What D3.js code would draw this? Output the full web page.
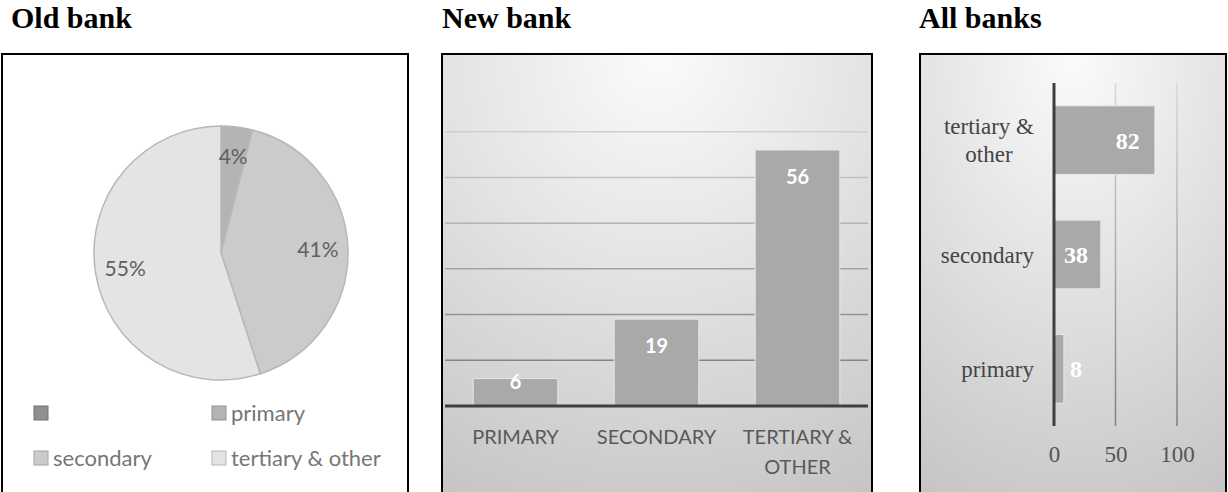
<!DOCTYPE html>
<html>
<head>
<meta charset="utf-8">
<script src="https://cdn.jsdelivr.net/npm/d3@7"></script>
<style>
  body { margin: 0; background: #fff; }
  .title { font-family: "Liberation Serif", "Times New Roman", serif; font-weight: bold; font-size: 30px; fill: #000; }
  .sans { font-family: Lato, "Liberation Sans", sans-serif; }
  .serif { font-family: "Liberation Serif", "Times New Roman", serif; }
</style>
</head>
<body>
<div id="main"></div>
<script>
// data
const oldCats = ["", "primary", "secondary", "tertiary & other"];
const oldShares = [0, 4, 41, 55];
const oldColors = ["#8f8f8f", "#b4b4b4", "#cbcbcb", "#e4e4e4"];

const newCats = ["PRIMARY", "SECONDARY", "TERTIARY & OTHER"];
const newCounts = [6, 19, 56];
const newGrid = [10, 20, 30, 40, 50, 60];

const allCats = ["tertiary & other", "secondary", "primary"];
const allCounts = [82, 38, 8];
const allTicks = [0, 50, 100];

const width = 1228, height = 492;

const svg = d3.select('#main').append('svg')
  .attr('width', width).attr('height', height);

const defs = svg.append('defs');

// background gradients for the two bar panels
function bgGradient(id) {
  const g = defs.append('radialGradient').attr('id', id)
    .attr('cx', '50%').attr('cy', '0%').attr('r', '115%')
    .attr('fx', '50%').attr('fy', '0%');
  g.append('stop').attr('offset', '0%').attr('stop-color', '#fbfbfb');
  g.append('stop').attr('offset', '45%').attr('stop-color', '#e2e2e2');
  g.append('stop').attr('offset', '100%').attr('stop-color', '#c2c2c2');
}
bgGradient('bg2');
bgGradient('bg3');

//helper to split "x & y" labels on two lines
function lines(str) {
  const i = str.indexOf('& ');
  return i < 0 ? [str] : [str.slice(0, i + 1), str.slice(i + 2)];
}

// ---------- Old bank (pie) ----------
svg.append('text').attr('class', 'title').attr('x', 11).attr('y', 28).text('Old bank');
svg.append('rect').attr('x', 2).attr('y', 54).attr('width', 406).attr('height', 450)
  .attr('fill', '#fff').attr('stroke', '#000').attr('stroke-width', 2);

const pieData = d3.pie().sort(null)(oldShares);
const r = 127;
const arc = d3.arc().innerRadius(0).outerRadius(r);
const labelArc = d3.arc().innerRadius(97).outerRadius(97);
const pieG = svg.append('g').attr('transform', 'translate(221,253)');

pieG.selectAll('path').data(pieData).enter().append('path')
  .attr('d', arc)
  .attr('fill', (d, i) => oldColors[i])
  .attr('stroke', '#b8b8b8').attr('stroke-width', 1.5);

pieG.selectAll('.lbl').data(pieData.filter(d => d.value > 0)).enter().append('text')
  .attr('class', 'sans')
  .attr('transform', d => 'translate(' + labelArc.centroid(d) + ')')
  .attr('text-anchor', 'middle').attr('dy', '0.35em')
  .style('font-size', '21px').style('fill', '#606060')
  .text(d => d.value + '%');

const legend = svg.append('g').selectAll('g').data(oldCats).enter().append('g')
  .attr('transform', (d, i) => 'translate(' + (i % 2 ? 212 : 34) + ',' + (i < 2 ? 413 : 458) + ')');
legend.append('rect').attr('x', 0).attr('y', -7).attr('width', 14).attr('height', 14)
  .attr('fill', (d, i) => oldColors[i]).attr('stroke', (d, i) => d3.color(oldColors[i]).darker(0.6));
legend.append('text').attr('class', 'sans')
  .attr('x', 19).attr('dy', '0.35em')
  .style('font-size', '22px').style('fill', '#767676')
  .text(d => d);

// ---------- New bank (columns) ----------
svg.append('text').attr('class', 'title').attr('x', 442).attr('y', 28).text('New bank');
svg.append('rect').attr('x', 442).attr('y', 54).attr('width', 430).attr('height', 450)
  .attr('fill', 'url(#bg2)').attr('stroke', '#000').attr('stroke-width', 2);

const x2 = d3.scaleBand().domain(newCats).range([445, 868])
  .paddingInner(0.4).paddingOuter(0.2);
const y2 = d3.scaleLinear().domain([0, 70]).range([406, 86]);
const gridColor = d3.scaleLinear().domain([10, 60]).range(['#858585', '#d0d0d0']);

svg.append('g').selectAll('line').data(newGrid).enter().append('line')
  .attr('x1', 445).attr('x2', 868)
  .attr('y1', d => y2(d)).attr('y2', d => y2(d))
  .attr('stroke', d => gridColor(d)).attr('stroke-width', 1.5);

svg.append('g').selectAll('rect').data(newCounts).enter().append('rect')
  .attr('x', (d, i) => x2(newCats[i]))
  .attr('y', d => y2(d))
  .attr('width', x2.bandwidth())
  .attr('height', d => y2(0) - y2(d))
  .attr('fill', '#a9a9a9').attr('stroke', '#e6e6e6').attr('stroke-width', 1);

svg.append('g').selectAll('text').data(newCounts).enter().append('text')
  .attr('class', 'sans')
  .attr('x', (d, i) => x2(newCats[i]) + x2.bandwidth() / 2)
  .attr('y', d => Math.min(y2(d) + 27, y2(0) - 24))
  .attr('dy', '0.35em').attr('text-anchor', 'middle')
  .style('font-size', '20px').style('font-weight', 'bold').style('fill', '#fff')
  .text(d => d);

svg.append('line').attr('x1', 445).attr('x2', 868).attr('y1', y2(0)).attr('y2', y2(0))
  .attr('stroke', '#3f3f3f').attr('stroke-width', 3);

const xAxis2 = svg.append('g').attr('transform', 'translate(0,' + y2(0) + ')')
  .call(d3.axisBottom(x2).tickSize(0).tickFormat(''));
xAxis2.select('.domain').remove();
xAxis2.selectAll('.tick').each(function(d) {
  const t = d3.select(this).append('text').attr('class', 'sans')
    .attr('text-anchor', 'middle')
    .style('font-size', '20px').style('fill', '#595959');
  lines(d).forEach((s, k) => {
    t.append('tspan').attr('x', 0).attr('y', 38 + k * 30).text(s);
  });
});

// ---------- All banks (horizontal bars) ----------
svg.append('text').attr('class', 'title').attr('x', 919).attr('y', 28).text('All banks');
svg.append('rect').attr('x', 920).attr('y', 54).attr('width', 306).attr('height', 450)
  .attr('fill', 'url(#bg3)').attr('stroke', '#000').attr('stroke-width', 2);

const x3 = d3.scaleLinear().domain([0, 100]).range([1054, 1177]);
const y3 = d3.scaleBand().domain(allCats).range([83, 426])
  .paddingInner(0.4).paddingOuter(0.2);

const vGrad = defs.append('linearGradient').attr('id', 'vgrid')
  .attr('gradientUnits', 'userSpaceOnUse')
  .attr('x1', 0).attr('y1', 83).attr('x2', 0).attr('y2', 426);
vGrad.append('stop').attr('offset', '0%').attr('stop-color', '#d8d8d8');
vGrad.append('stop').attr('offset', '100%').attr('stop-color', '#808080');

svg.append('g').selectAll('line').data(allTicks.slice(1)).enter().append('line')
  .attr('x1', d => x3(d)).attr('x2', d => x3(d))
  .attr('y1', 83).attr('y2', 426)
  .attr('stroke', 'url(#vgrid)').attr('stroke-width', 1.5);

svg.append('g').selectAll('rect').data(allCounts).enter().append('rect')
  .attr('x', x3(0))
  .attr('y', (d, i) => y3(allCats[i]))
  .attr('width', d => x3(d) - x3(0))
  .attr('height', y3.bandwidth())
  .attr('fill', '#a9a9a9').attr('stroke', '#e6e6e6').attr('stroke-width', 1);

svg.append('g').selectAll('text').data(allCounts).enter().append('text')
  .attr('class', 'serif')
  .attr('x', d => Math.max(x3(d) - 27, x3(0) + 22))
  .attr('y', (d, i) => y3(allCats[i]) + y3.bandwidth() / 2)
  .attr('dy', '0.35em').attr('text-anchor', 'middle')
  .style('font-size', '24px').style('font-weight', 'bold').style('fill', '#fff')
  .text(d => d);

svg.append('line').attr('x1', x3(0)).attr('x2', x3(0)).attr('y1', 83).attr('y2', 426)
  .attr('stroke', '#3f3f3f').attr('stroke-width', 3);

const xAxis3 = svg.append('g').attr('transform', 'translate(0,426)')
  .call(d3.axisBottom(x3).tickValues(allTicks).tickSize(0).tickPadding(20));
xAxis3.select('.domain').remove();
xAxis3.selectAll('text').attr('class', 'serif')
  .style('font-size', '23px').style('fill', '#555').attr('font-family', null);

const yAxis3 = svg.append('g').attr('transform', 'translate(1034,0)')
  .call(d3.axisLeft(y3).tickSize(0).tickFormat(''));
yAxis3.select('.domain').remove();
yAxis3.selectAll('.tick').each(function(d) {
  const parts = lines(d);
  const g = d3.select(this);
  const first = g.append('text').attr('class', 'serif')
    .attr('text-anchor', 'end').attr('y', parts.length > 1 ? -14 : 0).attr('dy', '0.35em')
    .style('font-size', '23px').style('fill', '#444').text(parts[0]);
  if (parts.length > 1) {
    const w = first.node().getComputedTextLength();
    g.append('text').attr('class', 'serif')
      .attr('text-anchor', 'middle').attr('x', -w / 2).attr('y', 14).attr('dy', '0.35em')
      .style('font-size', '23px').style('fill', '#444').text(parts[1]);
  }
});
</script>
</body>
</html>
